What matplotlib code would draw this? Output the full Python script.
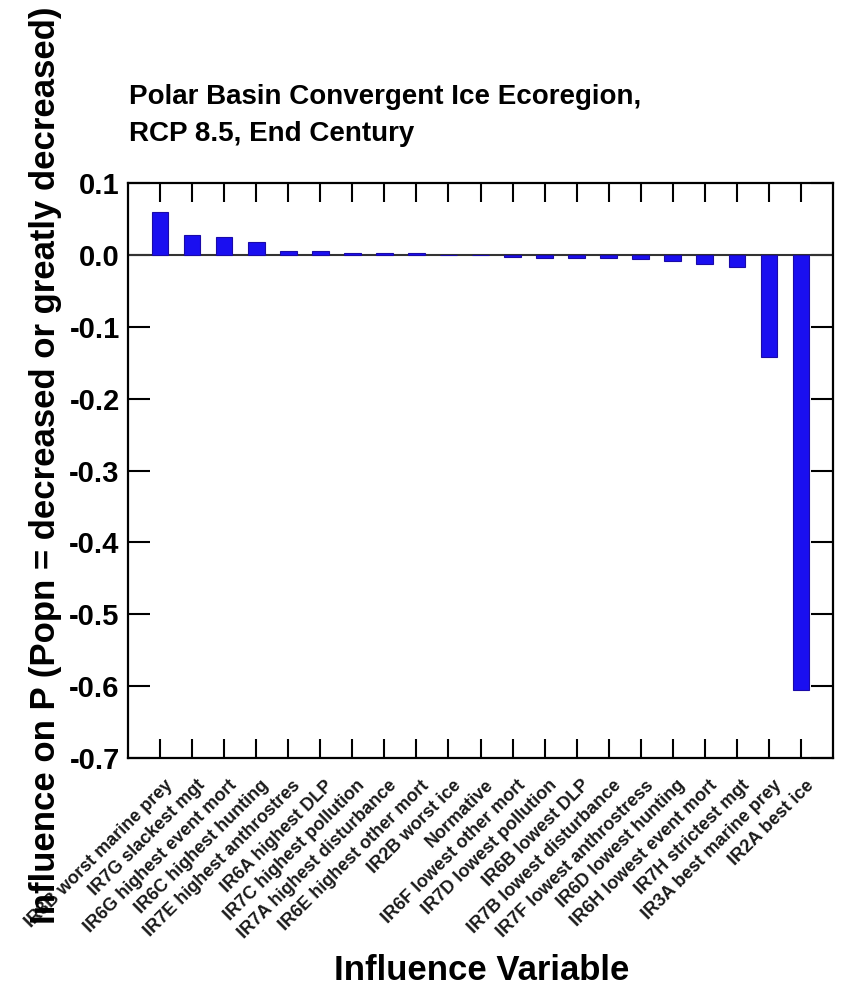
import matplotlib
matplotlib.use("Agg")
import matplotlib.pyplot as plt
from matplotlib.transforms import ScaledTranslation
import numpy as np

plt.rcParams['font.family'] = ['Liberation Sans', 'DejaVu Sans']
plt.rcParams['axes.unicode_minus'] = False

categories = [
    "IR3B worst marine prey", "IR7G slackest mgt", "IR6G highest event mort",
    "IR6C highest hunting", "IR7E highest anthrostres", "IR6A highest DLP",
    "IR7C highest pollution", "IR7A highest disturbance", "IR6E highest other mort",
    "IR2B worst ice", "Normative", "IR6F lowest other mort", "IR7D lowest pollution",
    "IR6B lowest DLP", "IR7B lowest disturbance", "IR7F lowest anthrostress",
    "IR6D lowest hunting", "IR6H lowest event mort", "IR7H strictest mgt",
    "IR3A best marine prey", "IR2A best ice",
]
values = [0.060, 0.027, 0.025, 0.018, 0.005, 0.005, 0.003, 0.003, 0.003,
          0.0, 0.0, -0.003, -0.004, -0.004, -0.004, -0.006, -0.009, -0.012,
          -0.017, -0.1415, -0.606]
yticks = [0.1, 0.0, -0.1, -0.2, -0.3, -0.4, -0.5, -0.6, -0.7]

title = "Polar Basin Convergent Ice Ecoregion,\nRCP 8.5, End Century"
xlabel = "Influence Variable"
ylabel = "Influence on P (Popn = decreased or greatly decreased)"

fig = plt.figure(figsize=(8.43, 9.92), dpi=100)
ax = fig.add_axes([128/843, 1-758/992, (833-128)/843, (758-183)/992])

x = np.arange(len(categories))
ax.bar(x, values, width=0.52, color='#1a0ff0', edgecolor='#1a0aa8', linewidth=0.8, zorder=3)
ax.axhline(0, color='#333333', linewidth=1.5, zorder=2)

ax.set_xlim(-1, len(categories))
ax.set_ylim(-0.7, 0.1)
ax.set_yticks(yticks)
ax.set_yticklabels([f"{v:.1f}" for v in yticks], fontsize=21, fontweight='bold')
ax.set_xticks(x)
ax.tick_params(axis='x', direction='in', length=14, width=1.5, top=True, bottom=True, pad=18)
ax.tick_params(axis='y', direction='in', length=16, width=1.5, left=True, right=True, pad=6)
ax.set_xticklabels(categories, rotation=45, ha='right', va='center',
                   rotation_mode='anchor', fontsize=13, fontweight='bold',
                   color='#1a1a1a')
for lbl in ax.get_xticklabels():
    lbl.set_transform(lbl.get_transform() + ScaledTranslation(10/100, 0, fig.dpi_scale_trans))

for s in ax.spines.values():
    s.set_linewidth(1.6)

fig.text(129/843, 1-84/992, title, ha='left', va='top', fontsize=20,
         fontweight='bold', linespacing=1.55)
fig.text(46/843, 1-465/992, ylabel, rotation=90, ha='center', va='center',
         fontsize=25, fontweight='bold')
fig.text(482/843, 1-970/992, xlabel, ha='center', va='center',
         fontsize=25, fontweight='bold')

fig.savefig("out.png", dpi=100)
